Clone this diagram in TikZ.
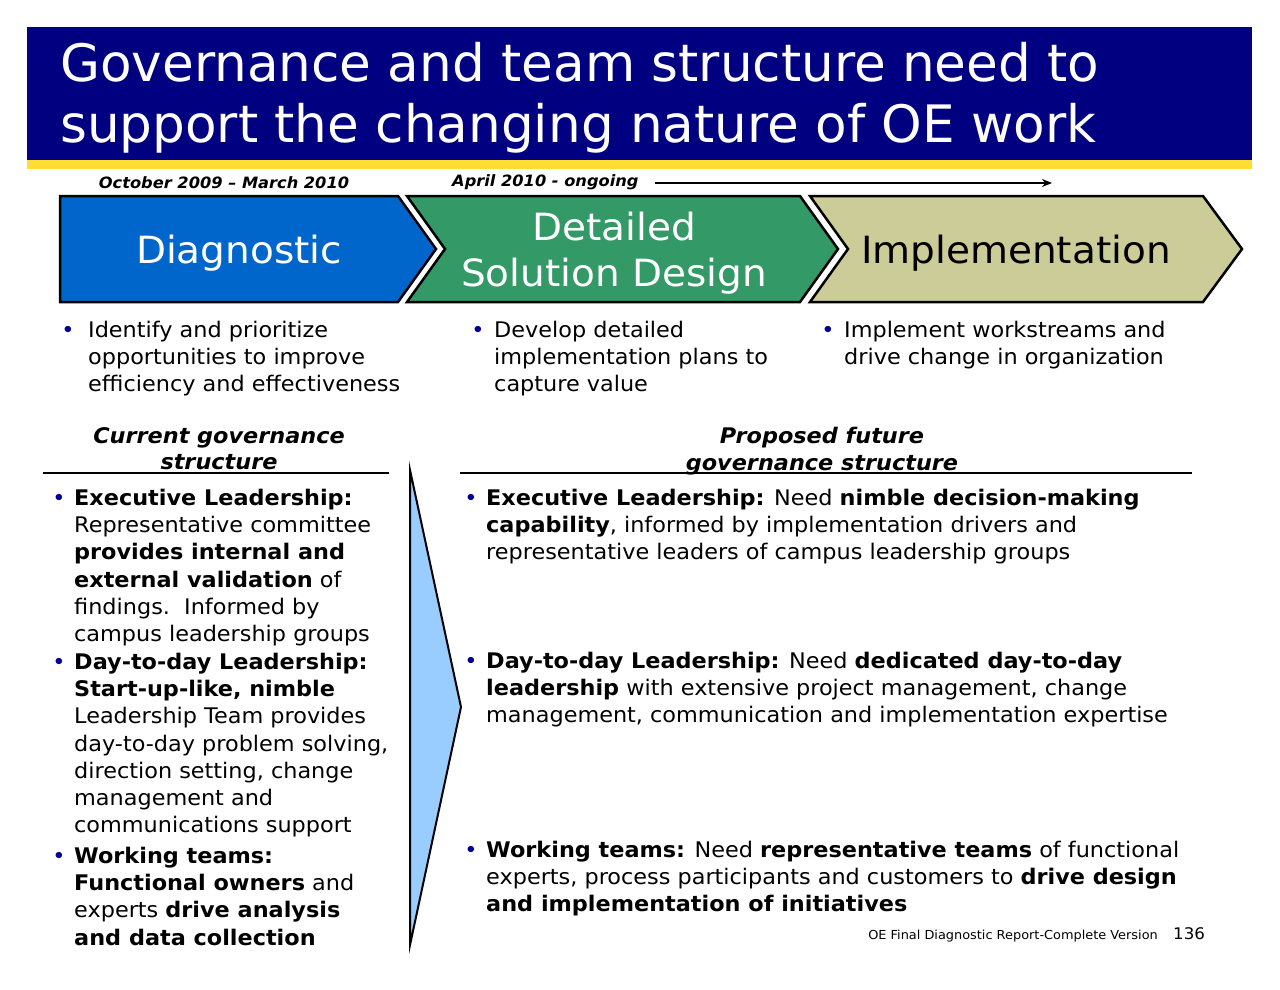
\documentclass[tikz,border=0pt]{standalone}
\usepackage{fontspec}
\setmainfont{DejaVu Sans}[FakeStretch=1.04]
\newfontfamily\headfont{DejaVu Sans}
\usepackage{tikz}
\usetikzlibrary{positioning,arrows.meta}

\definecolor{titlenavy}{RGB}{0,0,128}
\definecolor{titlegold}{RGB}{255,221,51}
\definecolor{diagblue}{RGB}{0,102,204}
\definecolor{designgreen}{RGB}{51,153,102}
\definecolor{impltan}{RGB}{204,204,153}
\definecolor{shiftblue}{RGB}{153,204,255}
\definecolor{dotblue}{RGB}{0,0,153}

\tikzset{
  titletext/.style={anchor=north west, inner sep=0, text=white, align=left,
    font=\headfont\fontsize{51.6}{61}\selectfont},
  datetext/.style={anchor=base, inner sep=0, font=\fontsize{15.6}{18}\selectfont\bfseries\itshape},
  chevron/.style={draw=black, line width=2.5pt, line join=miter},
  chevtext/.style={inner sep=0, align=center, font=\fontsize{37.5}{46}\selectfont},
  bodytext/.style={anchor=north west, inner sep=0, align=left,
    font=\fontsize{21.5}{27.2}\selectfont},
  headtext/.style={anchor=north, inner sep=0, align=center,
    font=\fontsize{21.5}{26.5}\selectfont\bfseries\itshape},
  bulletdot/.style={anchor=base, inner sep=0, text=dotblue,
    font=\fontsize{21.5}{27.2}\selectfont},
  rulebar/.style={line width=1.5pt},
}

\begin{document}
\begin{tikzpicture}[x=1pt,y=-1pt]
\useasboundingbox (0,0) rectangle (1280,990);

% Title bar
\fill[titlenavy] (27,27) rectangle (1252,160);
\fill[titlegold] (27,160) rectangle (1252,169);
\node[titletext] (title) at (60,42) {Governance and team structure need to\\support the changing nature of OE work};

% Phases
\node[datetext] (diagdate) at (224,188) {October 2009 -- March 2010};
\node[datetext, anchor=base west] (ongoing) at (452,186) {April 2010 - ongoing};
\coordinate (ongoingend) at (1052,183);
\draw[line width=1.5pt, -{Stealth[length=10pt,width=8pt]}] ([xshift=16pt]ongoing.east |- ongoingend) -- (ongoingend);

\draw[chevron, fill=diagblue] (60,196) -- (398,196) -- (436,249) -- (398,302) -- (60,302) -- cycle;
\draw[chevron, fill=designgreen] (407,196) -- (800,196) -- (838,249) -- (800,302) -- (407,302) -- (445,249) -- cycle;
\draw[chevron, fill=impltan] (810,196) -- (1203,196) -- (1242,249) -- (1203,302) -- (810,302) -- (848,249) -- cycle;

\node[chevtext, text=white] (diag) at (239,253) {Diagnostic};
\node[chevtext, text=white] (design) at (614,253) {Detailed\\Solution Design};
\node[chevtext, text=black] (impl) at (1016,253) {Implementation};

% Phase descriptions
\node[bulletdot] at (68,337) {•};
\node[bodytext] (diagdesc) at (88,321) {Identify and prioritize\\opportunities to improve\\efficiency and effectiveness};
\node[bulletdot] at (478,337) {•};
\node[bodytext] (designdesc) at (494,321) {Develop detailed\\implementation plans to\\capture value};
\node[bulletdot] at (828,337) {•};
\node[bodytext] (impldesc) at (844,321) {Implement workstreams and\\drive change in organization};

% Governance headers
\node[headtext] (curhead) at (219,427) {Current governance\\structure};
\node[headtext] (prophead) at (822,427) {Proposed future\\governance structure};
\draw[rulebar] (43,473) -- (389,473);
\draw[rulebar] (460,473) -- (1192,473);

% Transition arrow
\draw[fill=shiftblue, line width=2pt, line join=miter] (410,470) -- (461,707) -- (410,945) -- cycle;

% Current structure
\node[bulletdot] at (59,505) {•};
\node[bodytext] (curexec) at (74,489) {\textbf{Executive Leadership:}\\Representative committee\\\textbf{provides internal and}\\\textbf{external validation} of\\findings.\ \ Informed by\\campus leadership groups};
\node[bulletdot] at (59,669) {•};
\node[bodytext] (curday) at (74,653) {\textbf{Day-to-day Leadership:}\\\textbf{Start-up-like, nimble}\\Leadership Team provides\\day-to-day problem solving,\\direction setting, change\\management and\\communications support};
\node[bulletdot] at (59,863) {•};
\node[bodytext] (curwork) at (74,847) {\textbf{Working teams:}\\\textbf{Functional owners} and\\experts \textbf{drive analysis}\\\textbf{and data collection}};

% Proposed structure
\node[bulletdot] at (471,505) {•};
\node[bodytext] (propexec) at (486,489) {\textbf{Executive Leadership:} Need \textbf{nimble decision-making}\\\textbf{capability}, informed by implementation drivers and\\representative leaders of campus leadership groups};
\node[bulletdot] at (471,668) {•};
\node[bodytext] (propday) at (486,652) {\textbf{Day-to-day Leadership:} Need \textbf{dedicated day-to-day}\\\textbf{leadership} with extensive project management, change\\management, communication and implementation expertise};
\node[bulletdot] at (471,857) {•};
\node[bodytext] (propwork) at (486,841) {\textbf{Working teams:} Need \textbf{representative teams} of functional\\experts, process participants and customers to \textbf{drive design}\\\textbf{and implementation of initiatives}};

% Footer
\node[anchor=base east, inner sep=0, font=\fontsize{12.4}{14}\selectfont] (footer) at (1158,939) {OE Final Diagnostic Report-Complete Version};
\node[anchor=base west, inner sep=0, font=\fontsize{16}{18}\selectfont] (pageno) at (1173,939) {136};
\end{tikzpicture}
\end{document}
